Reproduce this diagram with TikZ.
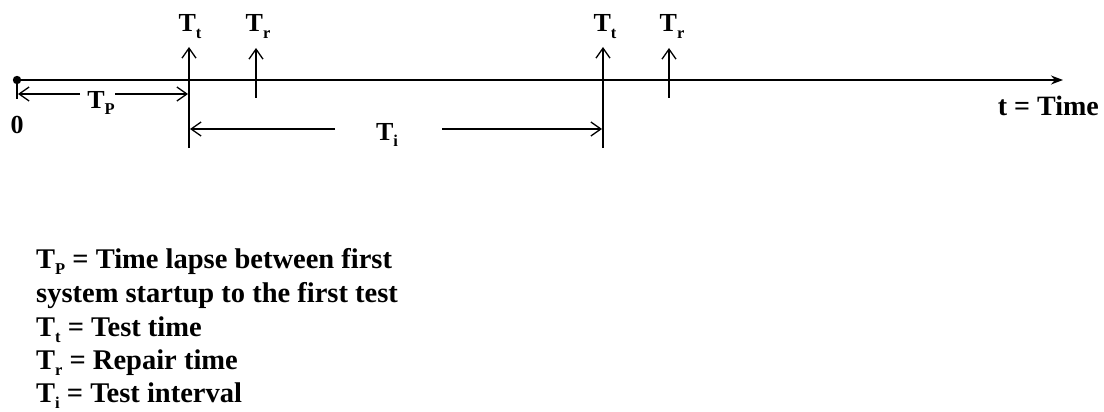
\documentclass[tikz,border=0pt]{standalone}
\usepackage{fontspec}
\setmainfont{Liberation Serif}
\usetikzlibrary{arrows.meta}
\newcommand{\lsub}[1]{\raisebox{-0.24em}{\fontsize{16.5}{16.5}\selectfont #1}}
\begin{document}
\begin{tikzpicture}[x=1pt,y=-1pt,
  lbl/.style={inner sep=0pt,font=\fontsize{26}{26}\selectfont\bfseries},
  leg/.style={inner sep=0pt,anchor=base west,font=\fontsize{28.5}{28.5}\selectfont\bfseries},
  axisline/.style={line width=1.5pt,-{Stealth[length=12pt,width=9pt]}},
  thin/.style={line width=1.3pt},
  barb/.style={line width=1.3pt,-{Straight Barb[length=10pt,width=14pt,line width=1.3pt]}}]
\useasboundingbox (0,0) rectangle (1104,412);
% axis
\coordinate (O) at (17,80);
\coordinate (E) at (1063,80);
\draw[axisline] (O) -- (E);
\fill (O) circle (4.2);
\coordinate (ot) at (17,99);
\draw[thin] (O) -- (ot);
\node[lbl,anchor=base] (zero) at (17,133) {0};
\node[lbl,anchor=base east,font=\fontsize{28}{28}\selectfont\bfseries] (time) at (1099,115) {t = Time};
% test instants
\coordinate (t1top) at (189,47);
\coordinate (t1bot) at (189,148);
\coordinate (r1top) at (256,48);
\coordinate (r1bot) at (256,98);
\coordinate (t2top) at (603,47);
\coordinate (t2bot) at (603,148);
\coordinate (r2top) at (669,48);
\coordinate (r2bot) at (669,98);
\draw[barb] (t1bot) -- (t1top);
\draw[barb] (r1bot) -- (r1top);
\draw[barb] (t2bot) -- (t2top);
\draw[barb] (r2bot) -- (r2top);
\node[lbl,anchor=base] (Tt1) at (190,32) {T\lsub{t}};
\node[lbl,anchor=base] (Tr1) at (258,32) {T\lsub{r}};
\node[lbl,anchor=base] (Tt2) at (605,32) {T\lsub{t}};
\node[lbl,anchor=base] (Tr2) at (672,32) {T\lsub{r}};
% T_P
\coordinate (pL) at (18,94);
\coordinate (pR) at (188,94);
\coordinate (pg1) at (80,94);
\coordinate (pg2) at (115,94);
\node[lbl,anchor=base] (Tp) at (101,108) {T\lsub{P}};
\draw[barb] (pg1) -- (pL);
\draw[barb] (pg2) -- (pR);
% T_i
\coordinate (iL) at (190,129);
\coordinate (iR) at (602,129);
\coordinate (ig1) at (335,129);
\coordinate (ig2) at (442,129);
\node[lbl,anchor=base] (Ti) at (387,140) {T\lsub{i}};
\draw[barb] (ig1) -- (iL);
\draw[barb] (ig2) -- (iR);
% legend
\node[leg] (l1) at (36,268) {T\lsub{P} = Time lapse between first};
\node[leg] (l2) at (36,302) {system startup to the first test};
\node[leg] (l3) at (36,336) {T\lsub{t} = Test time};
\node[leg] (l4) at (36,369) {T\lsub{r} = Repair time};
\node[leg] (l5) at (36,402) {T\lsub{i} = Test interval};
\end{tikzpicture}
\end{document}
